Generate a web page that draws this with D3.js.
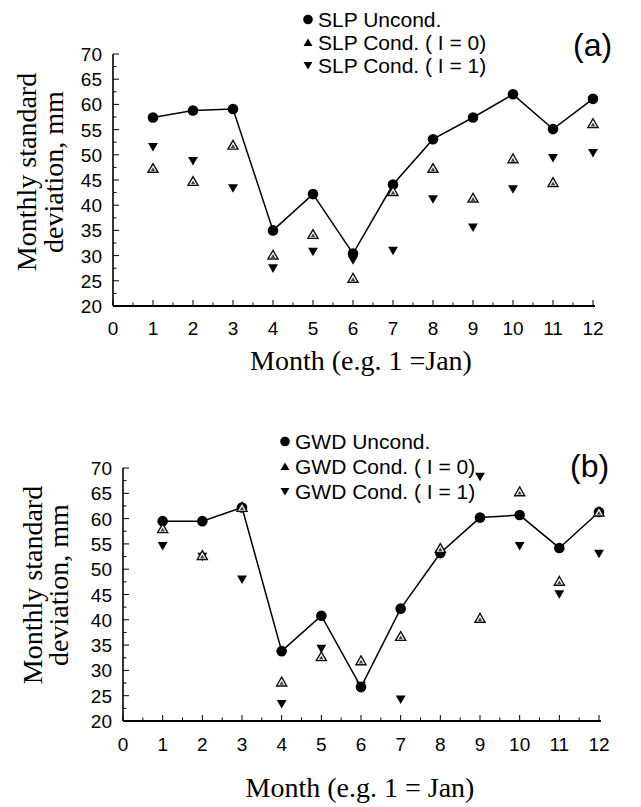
<!DOCTYPE html>
<html><head><meta charset="utf-8">
<script src="https://cdn.jsdelivr.net/npm/d3@7"></script>
<style>body{margin:0;background:#fff}</style>
</head><body><svg id="c" width="641" height="807"></svg>
<script>
const months = [1,2,3,4,5,6,7,8,9,10,11,12];
const yTicks = [20,25,30,35,40,45,50,55,60,65,70];
const xTicks = [0,1,2,3,4,5,6,7,8,9,10,11,12];
const slpUncond = [57.4,58.8,59.1,35.0,42.2,30.4,44.1,53.1,57.4,62.0,55.1,61.1];
const slpCond0  = [47.3,44.7,51.9,30.1,34.2,25.5,42.7,47.3,41.4,49.2,44.5,56.2];
const slpCond1  = [51.6,48.8,43.4,27.5,30.8,29.1,31.0,41.2,35.6,43.2,49.4,50.4];
const gwdUncond = [59.5,59.5,62.2,33.8,40.8,26.7,42.2,53.2,60.2,60.7,54.2,61.3];
const gwdCond0  = [58.0,52.7,62.2,27.7,32.7,31.9,36.7,54.1,40.3,65.3,47.6,61.3];
const gwdCond1  = [54.6,52.5,48.0,23.4,34.3,27.0,24.3,53.0,68.3,54.6,45.1,53.1];
const slpLegend = ["SLP Uncond.","SLP Cond. ( I = 0)","SLP Cond. ( I = 1)"];
const gwdLegend = ["GWD Uncond.","GWD Cond. ( I = 0)","GWD Cond. ( I = 1)"];

const svg = d3.select("#c");
const SANS = "'Liberation Sans', Arial, sans-serif";
const SERIF = "'Liberation Serif', 'Times New Roman', serif";

function upTri(g, x, y, size){
  g.append("path").attr("d", d3.symbol(d3.symbolTriangle, size)())
    .attr("transform", `translate(${x},${y+1})`)
    .attr("fill","#fff").attr("stroke","#111").attr("stroke-width",1.4);
  g.append("path").attr("d", d3.symbol(d3.symbolTriangle, size*0.2)())
    .attr("transform", `translate(${x},${y+1.5})`)
    .attr("fill","#444");
}
function downTri(g, x, y, size){
  g.append("path").attr("d", d3.symbol(d3.symbolTriangle, size)())
    .attr("transform", `translate(${x},${y-1}) rotate(180)`)
    .attr("fill","#000");
}

function panel(o){
  const x = d3.scaleLinear().domain([0,12]).range(o.xr);
  const y = d3.scaleLinear().domain([20,70]).range(o.yr);
  const g = svg.append("g");
  const yMinor = d3.range(20,70.1,2.5);
  g.selectAll(null).data(yMinor).join("line")
    .attr("x1", x(0)).attr("x2", d => x(0) + (d%5===0?6:3.5))
    .attr("y1", d=>y(d)).attr("y2", d=>y(d)).attr("stroke","#000").attr("stroke-width",1);
  const xMinor = d3.range(0,12.01,0.5);
  g.selectAll(null).data(xMinor).join("line")
    .attr("x1", d=>x(d)).attr("x2", d=>x(d))
    .attr("y1", y(20)).attr("y2", d => y(20) - (d%1===0?6:3.5)).attr("stroke","#000").attr("stroke-width",1);
  g.append("line").attr("x1",x(0)).attr("x2",x(0)).attr("y1",y(70)).attr("y2",y(20)).attr("stroke","#000").attr("stroke-width",1.6);
  g.append("line").attr("x1",x(0)).attr("x2",x(12)+2).attr("y1",y(20)).attr("y2",y(20)).attr("stroke","#000").attr("stroke-width",1.8);
  g.selectAll(null).data(yTicks).join("text")
    .attr("x", x(0)-11).attr("y", d=>y(d)+7).attr("text-anchor","end")
    .attr("font-family",SANS).attr("font-size",19).text(d=>d);
  g.selectAll(null).data(xTicks).join("text")
    .attr("x", d=>x(d)).attr("y", y(20)+o.xtY).attr("text-anchor","middle")
    .attr("font-family",SANS).attr("font-size",19).text(d=>d);
  g.append("text").attr("transform",`translate(${o.yl1},${o.ylc}) rotate(-90)`)
    .attr("text-anchor","middle").attr("font-family",SERIF).attr("font-size",28).text("Monthly standard");
  g.append("text").attr("transform",`translate(${o.yl2},${o.ylc}) rotate(-90)`)
    .attr("text-anchor","middle").attr("font-family",SERIF).attr("font-size",28).text("deviation, mm");
  g.append("text").attr("x",o.xtX).attr("y",o.xtBase).attr("text-anchor","middle")
    .attr("font-family",SERIF).attr("font-size",28).text(o.xTitle);
  g.append("text").attr("x",o.pl[0]).attr("y",o.pl[1]).attr("font-family",SANS).attr("font-size",32).text(o.plabel);
  const line = d3.line().x((d,i)=>x(months[i])).y(d=>y(d));
  g.append("path").attr("d", line(o.u)).attr("fill","none").attr("stroke","#000").attr("stroke-width",1.5);
  g.selectAll(null).data(o.u).join("circle")
    .attr("cx",(d,i)=>x(months[i])).attr("cy",d=>y(d)).attr("r",5.3).attr("fill","#000");
  o.c1.forEach((d,i)=>downTri(g, x(months[i]), y(d), 42));
  o.c0.forEach((d,i)=>upTri(g, x(months[i]), y(d), 44));
  const lg = svg.append("g");
  o.leg.forEach((t,i)=>{
    const ly = o.legY + i*o.legDy;
    const mx = o.legX - 10;
    if(i===0) lg.append("circle").attr("cx",mx).attr("cy",ly-7.5).attr("r",4.8).attr("fill","#000");
    if(i===1) lg.append("path").attr("d",d3.symbol(d3.symbolTriangle,34)()).attr("transform",`translate(${mx},${ly-6.5})`).attr("fill","#000");
    if(i===2) lg.append("path").attr("d",d3.symbol(d3.symbolTriangle,34)()).attr("transform",`translate(${mx},${ly-8.5}) rotate(180)`).attr("fill","#000");
    lg.append("text").attr("x",o.legX).attr("y",ly).attr("font-family",SANS).attr("font-size",o.legFs).text(t);
  });
}

panel({xr:[113,593], yr:[306,54], xtY:29, yl1:36, yl2:63, ylc:172,
  xtX:361, xtBase:370, xTitle:"Month (e.g. 1 =Jan)", pl:[573,56], plabel:"(a)",
  u:slpUncond, c0:slpCond0, c1:slpCond1, leg:slpLegend, legX:318, legY:27, legDy:23, legFs:21});
panel({xr:[123,599], yr:[721,468], xtY:30, yl1:42, yl2:68, ylc:585,
  xtX:360, xtBase:797, xTitle:"Month (e.g. 1 = Jan)", pl:[570,477], plabel:"(b)",
  u:gwdUncond, c0:gwdCond0, c1:gwdCond1, leg:gwdLegend, legX:295, legY:449, legDy:25, legFs:21});
</script></body></html>
